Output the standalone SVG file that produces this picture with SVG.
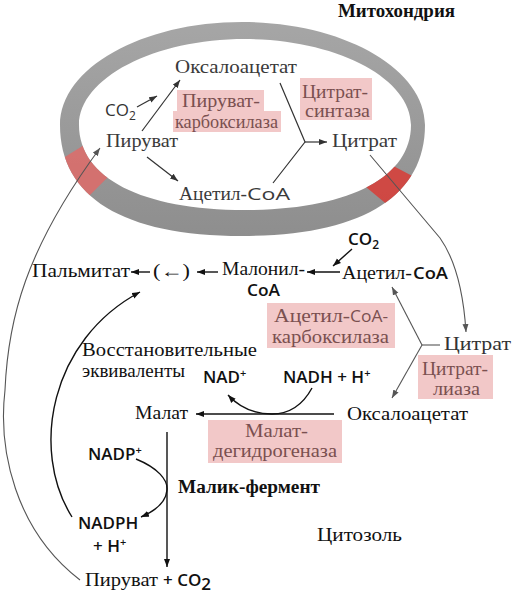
<svg xmlns="http://www.w3.org/2000/svg" width="513" height="596" viewBox="0 0 513 596">
<style>
.s{font-family:"Liberation Serif","Times New Roman",serif;font-size:18px}
.m{fill:#3a3a3a}
.k{fill:#111}
.e{fill:#7a5050}
.sn{font-family:"Open Sans","Noto Sans",sans-serif;font-weight:600;font-size:17px;fill:#111}
.sr{font-family:"Open Sans","Noto Sans",sans-serif;font-size:17px}
.box{fill:#f2c8c8}
.ln{fill:none;stroke:#333;stroke-width:1.2}
.lb{fill:none;stroke:#111;stroke-width:1.4}
.lg{fill:none;stroke:#555;stroke-width:1.1}
</style>
<defs>
<marker id="ad" markerUnits="userSpaceOnUse" markerWidth="9" markerHeight="7" refX="8" refY="3.5" orient="auto"><path d="M0,0.5 L8,3.5 L0,6.5 z" fill="#333"/></marker>
<marker id="ab" markerUnits="userSpaceOnUse" markerWidth="9" markerHeight="7" refX="8" refY="3.5" orient="auto"><path d="M0,0.5 L8,3.5 L0,6.5 z" fill="#111"/></marker>
<marker id="ag" markerUnits="userSpaceOnUse" markerWidth="9" markerHeight="7" refX="8" refY="3.5" orient="auto"><path d="M0,0.5 L8,3.5 L0,6.5 z" fill="#555"/></marker>
<linearGradient id="rg" x1="0" y1="0" x2="0" y2="1"><stop offset="0" stop-color="#a6a6a6"/><stop offset="1" stop-color="#8e8e8e"/></linearGradient>
<clipPath id="rc"><path clip-rule="evenodd" d="M60,125 C60,68 142,22 242,22 C342,22 425,68 425,125 C425,197 361,236 242,236 C123,236 60,197 60,125 Z M79,125 C79,78 154,39 245,39 C336,39 411,78 411,125 C411,178 348,210 245,210 C142,210 79,178 79,125 Z"/></clipPath>
</defs>
<rect width="513" height="596" fill="#fff"/>

<g id="mitochondrion">
<path fill="url(#rg)" fill-rule="evenodd" d="M60,125 C60,68 142,22 242,22 C342,22 425,68 425,125 C425,197 361,236 242,236 C123,236 60,197 60,125 Z M79,125 C79,78 154,39 245,39 C336,39 411,78 411,125 C411,178 348,210 245,210 C142,210 79,178 79,125 Z"/>
<g clip-path="url(#rc)">
<polygon points="55,163 97,137 115,170 80,205" fill="#de6b68" opacity="0.85"/>
<polygon points="378,158 420,180 396,212 360,182" fill="#d2443f" opacity="0.95"/>
</g>
<text class="s k" x="338" y="17" font-weight="bold" textLength="117" lengthAdjust="spacingAndGlyphs">Митохондрия</text>
</g>

<g id="mito-oxaloacetate"><text class="s m" x="175" y="73" textLength="122" lengthAdjust="spacingAndGlyphs">Оксалоацетат</text></g>
<g id="mito-co2"><text class="sr" x="105" y="116" fill="#333">CO<tspan font-size="12" dy="4">2</tspan></text></g>
<g id="mito-pyruvate"><text class="s m" x="106" y="147" textLength="72" lengthAdjust="spacingAndGlyphs">Пируват</text></g>
<g id="mito-citrate"><text class="s m" x="332" y="147" textLength="65" lengthAdjust="spacingAndGlyphs">Цитрат</text></g>
<g id="mito-acetylcoa"><text class="s m" x="179" y="200"><tspan textLength="68" lengthAdjust="spacingAndGlyphs">Ацетил-</tspan><tspan class="sr" x="247" textLength="43" lengthAdjust="spacingAndGlyphs">СоА</tspan></text></g>
<g id="pyruvate-carboxylase">
<rect class="box" x="177" y="90" width="87" height="22"/>
<rect class="box" x="173" y="111" width="108" height="21"/>
<text class="s e" x="182" y="107" textLength="78" lengthAdjust="spacingAndGlyphs">Пируват-</text>
<text class="s e" x="175" y="128" textLength="103" lengthAdjust="spacingAndGlyphs">карбоксилаза</text>
</g>
<g id="citrate-synthase">
<rect class="box" x="300" y="78" width="72" height="42"/>
<text class="s e" x="302" y="98" textLength="66" lengthAdjust="spacingAndGlyphs">Цитрат-</text>
<text class="s e" x="305" y="117" textLength="65" lengthAdjust="spacingAndGlyphs">синтаза</text>
</g>

<g id="cyto-co2"><text class="sn" x="348" y="245">CO<tspan font-size="12" dy="4">2</tspan></text></g>
<g id="cyto-acetylcoa"><text class="s k" x="342" y="279"><tspan textLength="70" lengthAdjust="spacingAndGlyphs">Ацетил-</tspan><tspan class="sn" x="413" textLength="35" lengthAdjust="spacingAndGlyphs">СоА</tspan></text></g>
<g id="malonylcoa">
<text class="s k" x="222" y="275" textLength="83" lengthAdjust="spacingAndGlyphs">Малонил-</text>
<text class="sn" x="247" y="296" textLength="33" lengthAdjust="spacingAndGlyphs">СоА</text>
</g>
<g id="intermediates"><text class="s k" x="153" y="277" textLength="37" lengthAdjust="spacingAndGlyphs">(←)</text></g>
<g id="palmitate"><text class="s k" x="32" y="277" textLength="98" lengthAdjust="spacingAndGlyphs">Пальмитат</text></g>
<g id="acetylcoa-carboxylase">
<rect class="box" x="267" y="303" width="128" height="45"/>
<text class="s e" x="274" y="322"><tspan textLength="76" lengthAdjust="spacingAndGlyphs">Ацетил-</tspan><tspan class="sr" x="350" textLength="38" lengthAdjust="spacingAndGlyphs">СоА-</tspan></text>
<text class="s e" x="272" y="343" textLength="117" lengthAdjust="spacingAndGlyphs">карбоксилаза</text>
</g>
<g id="cyto-citrate"><text class="s" x="444" y="350" fill="#333" textLength="67" lengthAdjust="spacingAndGlyphs">Цитрат</text></g>
<g id="citrate-lyase">
<rect class="box" x="418" y="355" width="75" height="44"/>
<text class="s e" x="422" y="375" textLength="66" lengthAdjust="spacingAndGlyphs">Цитрат-</text>
<text class="s e" x="433" y="395" textLength="47" lengthAdjust="spacingAndGlyphs">лиаза</text>
</g>
<g id="reducing-equivalents">
<text class="s k" x="82" y="356" textLength="175" lengthAdjust="spacingAndGlyphs">Восстановительные</text>
<text class="s k" x="82" y="377" textLength="103" lengthAdjust="spacingAndGlyphs">эквиваленты</text>
</g>
<g id="nad"><text class="sn" x="203" y="383">NAD<tspan font-size="11" dy="-6">+</tspan></text></g>
<g id="nadh"><text class="sn" x="283" y="383">NADH + H<tspan font-size="11" dy="-6">+</tspan></text></g>
<g id="malate"><text class="s k" x="135" y="419" textLength="53" lengthAdjust="spacingAndGlyphs">Малат</text></g>
<g id="cyto-oxaloacetate"><text class="s k" x="347" y="420" textLength="121" lengthAdjust="spacingAndGlyphs">Оксалоацетат</text></g>
<g id="malate-dehydrogenase">
<rect class="box" x="208" y="420" width="134" height="43"/>
<text class="s e" x="245" y="437" textLength="63" lengthAdjust="spacingAndGlyphs">Малат-</text>
<text class="s e" x="213" y="457" textLength="124" lengthAdjust="spacingAndGlyphs">дегидрогеназа</text>
</g>
<g id="nadp"><text class="sn" x="88" y="460">NADP<tspan font-size="11" dy="-6">+</tspan></text></g>
<g id="malic-enzyme"><text class="s k" x="178" y="493" font-weight="bold" textLength="142" lengthAdjust="spacingAndGlyphs">Малик-фермент</text></g>
<g id="nadph">
<text class="sn" x="78" y="529">NADPH</text>
<text class="sn" x="93" y="552">+ H<tspan font-size="11" dy="-6">+</tspan></text>
</g>
<g id="cytosol-label"><text class="s k" x="317" y="541" textLength="85" lengthAdjust="spacingAndGlyphs">Цитозоль</text></g>
<g id="pyruvate-co2"><text class="s k" x="85" y="586"><tspan textLength="73" lengthAdjust="spacingAndGlyphs">Пируват</tspan><tspan class="sn" x="163">+ CO</tspan><tspan class="sn" font-size="12" dy="4">2</tspan></text></g>

<g id="connectors">
<line class="ln" x1="137" y1="107" x2="157" y2="96" marker-end="url(#ad)"/>
<line class="ln" x1="142" y1="131" x2="180" y2="80" marker-end="url(#ad)"/>
<line class="ln" x1="147" y1="157" x2="178" y2="181" marker-end="url(#ad)"/>
<polyline class="ln" points="280,83 305,142 273,183"/>
<line class="ln" x1="305" y1="142" x2="327" y2="142" marker-end="url(#ad)"/>
<path class="lg" d="M80,580 C15,530 -2,450 5,390 C8,320 25,250 100,148" marker-end="url(#ag)"/>
<path class="lg" d="M370,155 L440,238 C452,255 463,285 466,332" marker-end="url(#ag)"/>
<line class="lb" x1="352" y1="249" x2="333" y2="266" marker-end="url(#ab)"/>
<line class="lb" x1="340" y1="272" x2="307" y2="272" marker-end="url(#ab)"/>
<line class="lb" x1="218" y1="272" x2="197" y2="272" marker-end="url(#ab)"/>
<line class="lb" x1="150" y1="272" x2="131" y2="272" marker-end="url(#ab)"/>
<line class="lg" x1="422" y1="345" x2="440" y2="345"/>
<line class="lg" x1="422" y1="345" x2="392" y2="287" marker-end="url(#ag)"/>
<line class="lg" x1="422" y1="345" x2="392" y2="398" marker-end="url(#ag)"/>
<line class="lb" x1="334" y1="414" x2="196" y2="414" marker-end="url(#ab)"/>
<path class="lb" d="M312,388 C300,410 285,414 272,414 C255,414 240,408 228,395" marker-end="url(#ab)"/>
<line class="lb" x1="167" y1="432" x2="167" y2="567" marker-end="url(#ab)"/>
<path class="lb" d="M136,459 C158,468 168,480 167,490 C166,502 155,511 141,517" marker-end="url(#ab)"/>
<path class="lb" d="M72,517 C30,450 50,340 140,292" marker-end="url(#ab)"/>
</g>
</svg>
